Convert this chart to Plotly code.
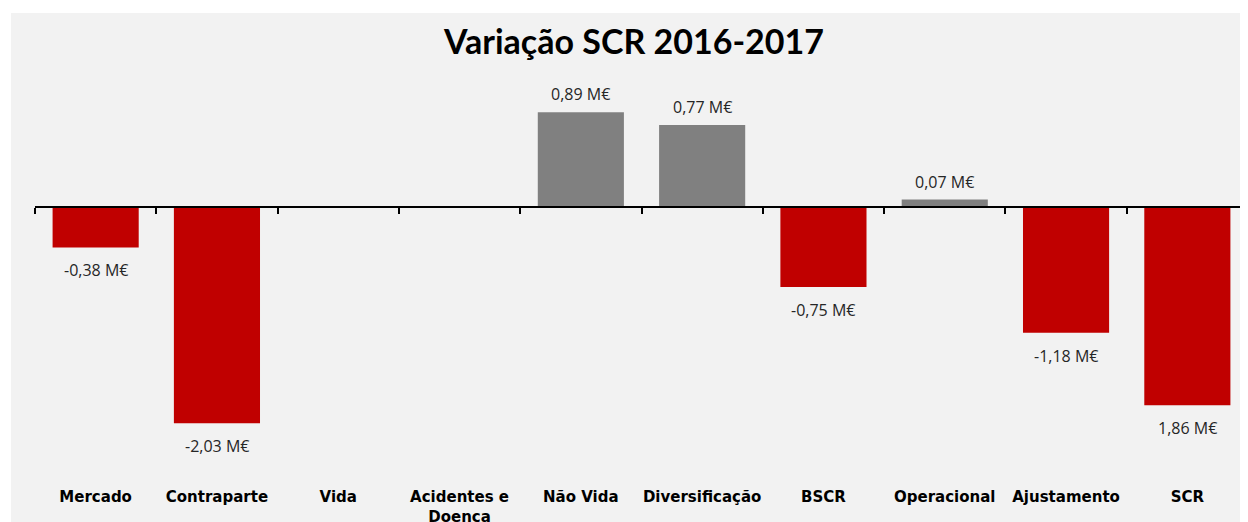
import plotly.graph_objects as go

# Variação SCR 2016-2017 (M€)
categories = ["Mercado", "Contraparte", "Vida", "Acidentes e<br>Doença", "Não Vida",
              "Diversificação", "BSCR", "Operacional", "Ajustamento", "SCR"]
values = [-0.38, -2.03, 0.0, 0.0, 0.89, 0.77, -0.75, 0.07, -1.18, -1.86]
labels = ["-0,38 M€", "-2,03 M€", "", "", "0,89 M€", "0,77 M€",
          "-0,75 M€", "0,07 M€", "-1,18 M€", "1,86 M€"]

RED = "#C00000"
GREY = "#808080"
BG = "#F2F2F2"

y_min, y_max = -2.469, 1.286
zero_pos = (0 - y_min) / (y_max - y_min)

fig = go.Figure()

fig.add_trace(go.Bar(
    x=list(range(len(categories))),
    y=values,
    marker=dict(color=[RED if v < 0 else GREY for v in values], line=dict(width=0)),
    width=0.71,
    showlegend=False,
    hoverinfo="skip",
))

# data labels below/above the bar ends
for i, (v, t) in enumerate(zip(values, labels)):
    if not t:
        continue
    fig.add_annotation(
        x=i, y=v, text=t, showarrow=False,
        yanchor="middle", yshift=-23 if v < 0 else 18,
        font=dict(family="Open Sans", size=16, color="#262626"),
    )

# axis line with boundary ticks, sitting on zero
fig.add_trace(go.Scatter(x=[0], y=[0], xaxis="x2", mode="markers",
                         marker=dict(opacity=0), showlegend=False, hoverinfo="skip"))

# page has an 8px body margin, so everything is placed 8px up/left
fig.update_layout(
    width=1248,
    height=522,
    margin=dict(l=27, r=8, t=62, b=60),
    paper_bgcolor=BG,
    plot_bgcolor=BG,
    title=dict(
        text="Variação SCR 2016-2017",
        x=626 / 1248, xanchor="center", y=1 - 34 / 522, yanchor="middle",
        font=dict(family="Lato", size=34, color="black", weight="bold"),
    ),
    xaxis=dict(
        range=[-0.5, 9.5],
        tickmode="array",
        tickvals=list(range(len(categories))),
        ticktext=categories,
        tickfont=dict(family="DejaVu Sans", size=15, color="black", weight="bold"),
        ticks="outside", ticklen=13, tickcolor="rgba(0,0,0,0)",
        automargin=False,
        showgrid=False, zeroline=False, showline=False,
    ),
    xaxis2=dict(
        overlaying="x", anchor="free", position=zero_pos, side="bottom",
        range=[-0.5, 9.5],
        tickmode="array",
        tickvals=[i - 0.5 for i in range(len(categories) + 1)],
        ticks="outside", ticklen=6, tickwidth=1.5, tickcolor="black",
        automargin=False,
        showticklabels=False, showgrid=False, zeroline=False,
        showline=True, linecolor="black", linewidth=1.5,
    ),
    yaxis=dict(
        range=[y_min, y_max], automargin=False,
        visible=False, showgrid=False, zeroline=False,
    ),
    shapes=[
        # white strips at the top and left edge of the picture
        dict(type="rect", xref="paper", yref="paper", x0=-0.03, x1=1.01,
             y0=(462 - 5) / 400, y1=1.25, fillcolor="white", line=dict(width=0), layer="above"),
        dict(type="rect", xref="paper", yref="paper", x0=-0.03, x1=(3 - 27) / 1213,
             y0=-0.2, y1=1.25, fillcolor="white", line=dict(width=0), layer="above"),
    ],
)

fig.write_html("out.html")
